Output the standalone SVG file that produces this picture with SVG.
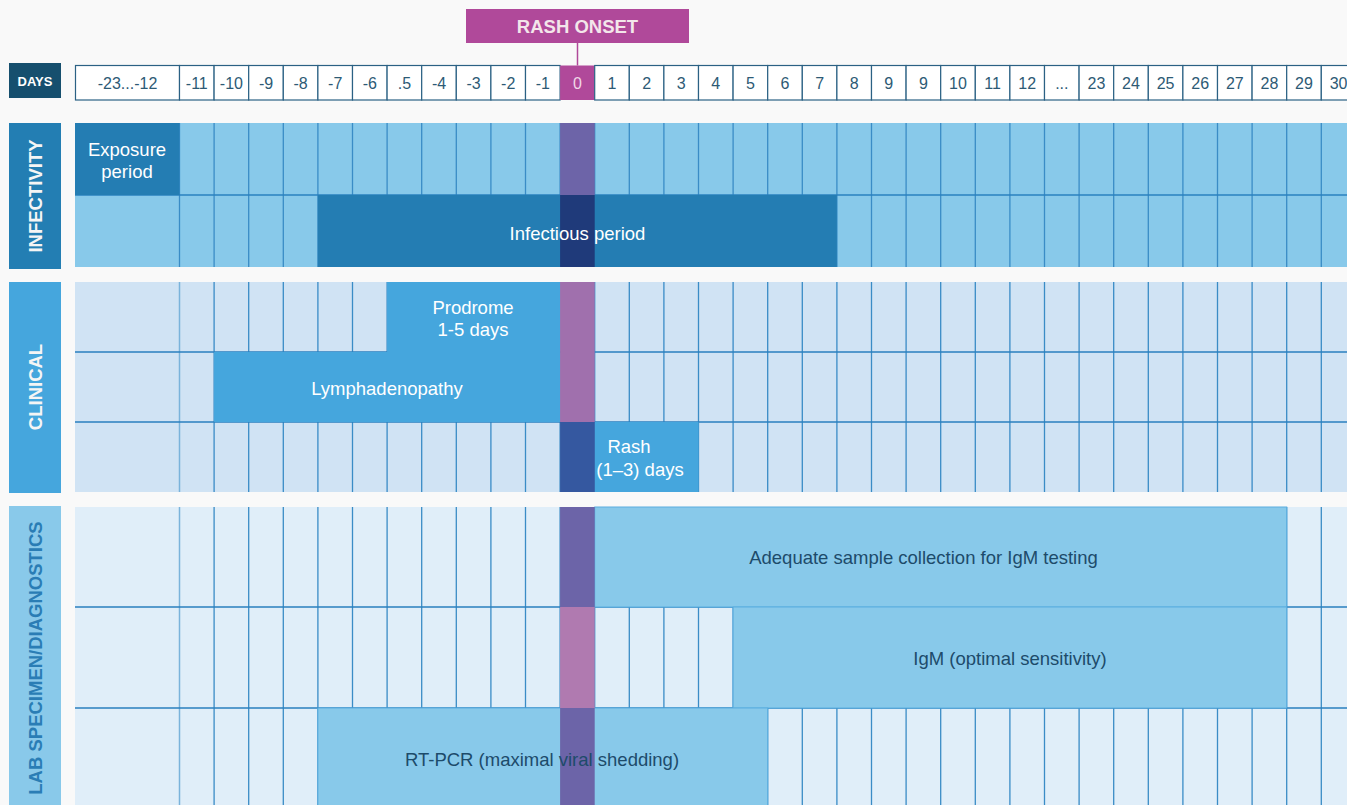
<svg xmlns="http://www.w3.org/2000/svg" width="1347" height="805" viewBox="0 0 1347 805">
<style>
.hc{fill:#ffffff;stroke:#2b6184;stroke-width:1.2}
.ht{font-family:"Liberation Sans",Arial,sans-serif;font-size:16px;fill:#2d5a75;text-anchor:middle}
.lbl{font-family:"Liberation Sans",Arial,sans-serif;font-size:18.5px;font-weight:bold;text-anchor:middle}
.bt{font-family:"Liberation Sans",Arial,sans-serif;font-size:18.5px;fill:#ffffff;text-anchor:middle}
.dt{font-family:"Liberation Sans",Arial,sans-serif;font-size:18.5px;fill:#1d4b6a;text-anchor:middle}
.gl{stroke:#3a8cc6;stroke-width:1.3;fill:none}
.gl0{stroke:#7ab3db;stroke-width:1.5;fill:none}
.hl{stroke:#2a80bf;stroke-width:1.3;fill:none}
</style>
<rect x="0" y="0" width="1347" height="805" fill="#f9f9f9"/>

<g id="rash-onset">
<rect x="466" y="9" width="223" height="34" fill="#b0499a"/>
<text x="577.5" y="32.5" class="lbl" fill="#f3e6ea">RASH ONSET</text>
</g>

<g id="days-label">
<rect x="9" y="63" width="52" height="35" fill="#164f6e"/>
<text x="35" y="86" font-family="Liberation Sans,Arial,sans-serif" font-size="13" font-weight="bold" fill="#ffffff" text-anchor="middle">DAYS</text>
</g>

<g id="header">
<rect class="hc" x="75.5" y="65.5" width="104" height="34.5"/>
<text class="ht" x="127.5" y="89">-23...-12</text>
<rect class="hc" x="179.5" y="65.5" width="34.6" height="34.5"/><text class="ht" x="196.8" y="89">-11</text>
<rect class="hc" x="214.1" y="65.5" width="34.6" height="34.5"/><text class="ht" x="231.4" y="89">-10</text>
<rect class="hc" x="248.7" y="65.5" width="34.6" height="34.5"/><text class="ht" x="266" y="89">-9</text>
<rect class="hc" x="283.3" y="65.5" width="34.6" height="34.5"/><text class="ht" x="300.6" y="89">-8</text>
<rect class="hc" x="317.9" y="65.5" width="34.6" height="34.5"/><text class="ht" x="335.2" y="89">-7</text>
<rect class="hc" x="352.5" y="65.5" width="34.6" height="34.5"/><text class="ht" x="369.8" y="89">-6</text>
<rect class="hc" x="387.1" y="65.5" width="34.6" height="34.5"/><text class="ht" x="404.4" y="89">.5</text>
<rect class="hc" x="421.7" y="65.5" width="34.6" height="34.5"/><text class="ht" x="439" y="89">-4</text>
<rect class="hc" x="456.3" y="65.5" width="34.6" height="34.5"/><text class="ht" x="473.6" y="89">-3</text>
<rect class="hc" x="490.9" y="65.5" width="34.6" height="34.5"/><text class="ht" x="508.2" y="89">-2</text>
<rect class="hc" x="525.5" y="65.5" width="34.6" height="34.5"/><text class="ht" x="542.8" y="89">-1</text>
<rect x="560.1" y="65.5" width="34.6" height="34.5" fill="#b0499a"/><text class="ht" x="577.4" y="89" style="fill:#f0d8e8">0</text>
<rect class="hc" x="594.7" y="65.5" width="34.6" height="34.5"/><text class="ht" x="612" y="89">1</text>
<rect class="hc" x="629.3" y="65.5" width="34.6" height="34.5"/><text class="ht" x="646.6" y="89">2</text>
<rect class="hc" x="663.9" y="65.5" width="34.6" height="34.5"/><text class="ht" x="681.2" y="89">3</text>
<rect class="hc" x="698.5" y="65.5" width="34.6" height="34.5"/><text class="ht" x="715.8" y="89">4</text>
<rect class="hc" x="733.1" y="65.5" width="34.6" height="34.5"/><text class="ht" x="750.4" y="89">5</text>
<rect class="hc" x="767.7" y="65.5" width="34.6" height="34.5"/><text class="ht" x="785" y="89">6</text>
<rect class="hc" x="802.3" y="65.5" width="34.6" height="34.5"/><text class="ht" x="819.6" y="89">7</text>
<rect class="hc" x="836.9" y="65.5" width="34.6" height="34.5"/><text class="ht" x="854.2" y="89">8</text>
<rect class="hc" x="871.5" y="65.5" width="34.6" height="34.5"/><text class="ht" x="888.8" y="89">9</text>
<rect class="hc" x="906.1" y="65.5" width="34.6" height="34.5"/><text class="ht" x="923.4" y="89">9</text>
<rect class="hc" x="940.7" y="65.5" width="34.6" height="34.5"/><text class="ht" x="958" y="89">10</text>
<rect class="hc" x="975.3" y="65.5" width="34.6" height="34.5"/><text class="ht" x="992.6" y="89">11</text>
<rect class="hc" x="1009.9" y="65.5" width="34.6" height="34.5"/><text class="ht" x="1027.2" y="89">12</text>
<rect class="hc" x="1044.5" y="65.5" width="34.6" height="34.5"/><text class="ht" x="1061.8" y="89">...</text>
<rect class="hc" x="1079.1" y="65.5" width="34.6" height="34.5"/><text class="ht" x="1096.4" y="89">23</text>
<rect class="hc" x="1113.7" y="65.5" width="34.6" height="34.5"/><text class="ht" x="1131" y="89">24</text>
<rect class="hc" x="1148.3" y="65.5" width="34.6" height="34.5"/><text class="ht" x="1165.6" y="89">25</text>
<rect class="hc" x="1182.9" y="65.5" width="34.6" height="34.5"/><text class="ht" x="1200.2" y="89">26</text>
<rect class="hc" x="1217.5" y="65.5" width="34.6" height="34.5"/><text class="ht" x="1234.8" y="89">27</text>
<rect class="hc" x="1252.1" y="65.5" width="34.6" height="34.5"/><text class="ht" x="1269.4" y="89">28</text>
<rect class="hc" x="1286.7" y="65.5" width="34.6" height="34.5"/><text class="ht" x="1304" y="89">29</text>
<rect class="hc" x="1321.3" y="65.5" width="34.6" height="34.5"/><text class="ht" x="1338.6" y="89">30</text>
</g>

<g id="connectors">
<line x1="577.5" y1="43" x2="577.5" y2="65.5" stroke="#b0499a" stroke-width="1.5"/>
</g>

<g id="infectivity-label">
<rect x="9" y="123" width="52" height="146" fill="#237eb3"/>
<text class="lbl" fill="#f5f5f5" transform="translate(42,196) rotate(-90)">INFECTIVITY</text>
</g>

<g id="infectivity-grid">
<rect x="75" y="123" width="1272" height="144" fill="#88c9ea"/>
<path class="gl" d="M179.5 123V267M214.1 123V267M248.7 123V267M283.3 123V267M317.9 123V267M352.5 123V267M387.1 123V267M421.7 123V267M456.3 123V267M490.9 123V267M525.5 123V267M560.1 123V267M594.7 123V267M629.3 123V267M663.9 123V267M698.5 123V267M733.1 123V267M767.7 123V267M802.3 123V267M836.9 123V267M871.5 123V267M906.1 123V267M940.7 123V267M975.3 123V267M1009.9 123V267M1044.5 123V267M1079.1 123V267M1113.7 123V267M1148.3 123V267M1182.9 123V267M1217.5 123V267M1252.1 123V267M1286.7 123V267M1321.3 123V267"/>
<path class="hl" d="M75 195H1347"/>
</g>

<g id="exposure-period">
<rect x="75" y="123" width="104.5" height="72" fill="#247db3"/>
</g>
<g id="infectious-period">
<rect x="317.9" y="195" width="519" height="72" fill="#247db3"/>
</g>

<g id="clinical-label">
<rect x="9" y="282" width="52" height="211" fill="#45a6dd"/>
<text class="lbl" fill="#f5f5f5" transform="translate(42,387) rotate(-90)">CLINICAL</text>
</g>

<g id="clinical-grid">
<rect x="75" y="282" width="1272" height="210" fill="#d0e3f4"/>
<path class="gl0" d="M179.5 282V492"/>
<path class="gl" d="M214.1 282V492M248.7 282V492M283.3 282V492M317.9 282V492M352.5 282V492M387.1 282V492M421.7 282V492M456.3 282V492M490.9 282V492M525.5 282V492M560.1 282V492M594.7 282V492M629.3 282V492M663.9 282V492M698.5 282V492M733.1 282V492M767.7 282V492M802.3 282V492M836.9 282V492M871.5 282V492M906.1 282V492M940.7 282V492M975.3 282V492M1009.9 282V492M1044.5 282V492M1079.1 282V492M1113.7 282V492M1148.3 282V492M1182.9 282V492M1217.5 282V492M1252.1 282V492M1286.7 282V492M1321.3 282V492"/>
<path class="hl" d="M75 352H1347M75 422H1347"/>
</g>

<g id="prodrome">
<rect x="387.1" y="282" width="173" height="70" fill="#45a6dd"/>
</g>
<g id="lymphadenopathy">
<rect x="214.1" y="352" width="346" height="70" fill="#45a6dd"/>
</g>
<g id="rash">
<rect x="594.7" y="422" width="103.8" height="70" fill="#45a6dd"/>
</g>

<g id="lab-label">
<rect x="9" y="506" width="52" height="299" fill="#89c9ea"/>
<text class="lbl" fill="#2a7db5" transform="translate(42,658) rotate(-90)">LAB SPECIMEN/DIAGNOSTICS</text>
</g>

<g id="lab-grid">
<rect x="75" y="507" width="1272" height="298" fill="#e0eef9"/>
<path class="gl0" d="M179.5 507V805"/>
<path class="gl" d="M214.1 507V805M248.7 507V805M283.3 507V805M317.9 507V805M352.5 507V805M387.1 507V805M421.7 507V805M456.3 507V805M490.9 507V805M525.5 507V805M560.1 507V805M594.7 507V805M629.3 507V805M663.9 507V805M698.5 507V805M733.1 507V805M767.7 507V805M802.3 507V805M836.9 507V805M871.5 507V805M906.1 507V805M940.7 507V805M975.3 507V805M1009.9 507V805M1044.5 507V805M1079.1 507V805M1113.7 507V805M1148.3 507V805M1182.9 507V805M1217.5 507V805M1252.1 507V805M1286.7 507V805M1321.3 507V805"/>
<path class="hl" d="M75 607H1347M75 708H1347"/>
</g>

<g id="adequate-sample">
<rect x="594.7" y="507" width="692" height="100" fill="#88c9ea" stroke="#5aaee0" stroke-width="1"/>
</g>
<g id="igm">
<rect x="733.1" y="607" width="553.6" height="101" fill="#88c9ea" stroke="#5aaee0" stroke-width="1"/>
</g>
<g id="rt-pcr">
<rect x="317.9" y="708" width="449.8" height="100" fill="#88c9ea" stroke="#5aaee0" stroke-width="1"/>
</g>

<g id="day-zero-column">
<rect x="560.1" y="123" width="34.6" height="72" fill="#6d64a8"/>
<rect x="560.1" y="195" width="34.6" height="72" fill="#1f3a7a"/>
<rect x="560.1" y="282" width="34.6" height="140" fill="#a070ad"/>
<rect x="560.1" y="422" width="34.6" height="70" fill="#3558a0"/>
<rect x="560.1" y="507" width="34.6" height="100" fill="#6c64a8"/>
<rect x="560.1" y="607" width="34.6" height="101" fill="#b07ab0"/>
<rect x="560.1" y="708" width="34.6" height="97" fill="#6c64a8"/>
</g>

<g id="labels">
<text class="bt" x="127" y="156">Exposure</text>
<text class="bt" x="127" y="178">period</text>
<text class="bt" x="577.5" y="240">Infectious period</text>
<text class="bt" x="473" y="314">Prodrome</text>
<text class="bt" x="473" y="336">1-5 days</text>
<text class="bt" x="387" y="395">Lymphadenopathy</text>
<text class="bt" x="629" y="453">Rash</text>
<text class="bt" x="640" y="476">(1–3) days</text>
<text class="dt" x="923.5" y="564">Adequate sample collection for IgM testing</text>
<text class="dt" x="1010" y="665">IgM (optimal sensitivity)</text>
<text class="dt" x="542" y="766">RT-PCR (maximal viral shedding)</text>
</g>
</svg>
